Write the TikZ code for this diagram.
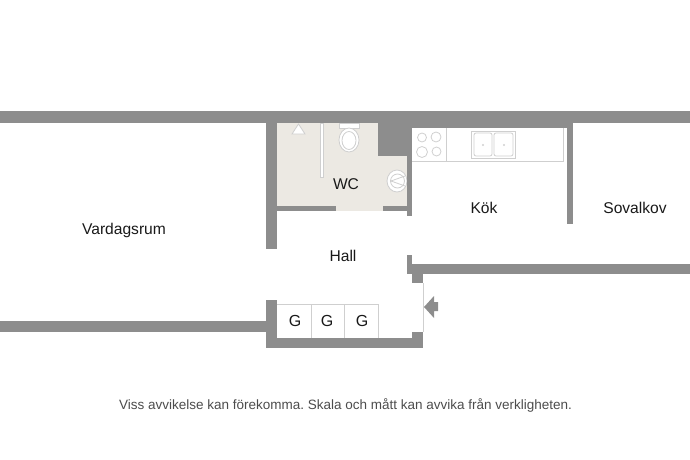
\documentclass[tikz,border=0pt]{standalone}
\usepackage{fontspec}
\setmainfont{Liberation Sans}
\usepackage{xcolor}
\frenchspacing
\definecolor{wallgrey}{HTML}{8D8D8D}
\definecolor{wcfloor}{HTML}{ECE9E3}
\definecolor{linegrey}{HTML}{CFCFCF}
\tikzset{
    wall/.style={fill=wallgrey, draw=none},
    fixture/.style={draw=linegrey, line width=0.8pt},
    roomlabel/.style={font=\fontsize{15.6}{17}\selectfont, text=black!90, inner sep=0pt},
    garderob/.style={font=\fontsize{16}{17}\selectfont, text=black!90, inner sep=0pt},
}

\begin{document}
\begin{tikzpicture}[x=1pt, y=-1pt]
    \useasboundingbox (0, 0) rectangle (690, 460);
    
    % floor of the WC
    \fill[wcfloor] (277, 122) rectangle (407, 206);
    \fill[wcfloor] (336, 206) rectangle (383, 211);
    
    % wash basin
    \draw[fixture, fill=white] (397, 181) ellipse (10 and 11);
    \draw[fixture] (397.5, 181) circle (7);
    \draw[fixture] (391, 181) -- (405, 176);
    \draw[fixture] (391, 181) -- (405, 186);
    
    % walls
    \fill[wall] (0, 111) rectangle (690, 123);
    \fill[wall] (412, 123) rectangle (567, 128);
    \fill[wall] (266, 123) rectangle (277, 249);
    \fill[wall] (277, 206) rectangle (336, 211);
    \fill[wall] (383, 206) rectangle (412, 211);
    \fill[wall] (378, 123) rectangle (412, 156);
    \fill[wall] (407, 156) rectangle (412, 216);
    \fill[wall] (567, 123) rectangle (573, 224);
    \fill[wall] (412, 264) rectangle (690, 274);
    \fill[wall] (407, 255) rectangle (412, 274);
    \fill[wall] (412, 274) rectangle (423, 283);
    \fill[wall] (266, 338) rectangle (423, 348);
    \fill[wall] (412, 332) rectangle (423, 338);
    \fill[wall] (266, 300) rectangle (277, 338);
    \fill[wall] (0, 321) rectangle (266, 332);
    
    % entrance
    \draw[fixture] (423.5, 283) -- (423.5, 332);
    \fill[wall] (424, 307) -- (434, 296) -- (434, 302) -- (438, 302) -- (438, 311) -- (434, 311) -- (434, 318) -- cycle;
    
    % shower and toilet
    \draw[fixture, fill=white] (292, 134) -- (298.5, 124) -- (305, 134) -- cycle;
    \draw[fixture, fill=white] (320, 123) rectangle (323, 177);
    \draw[fixture, fill=white] (339, 123) rectangle (359, 128);
    \draw[fixture, fill=white] (349, 140) ellipse (10 and 12);
    \draw[fixture] (349, 140.5) ellipse (7 and 9);
    
    % kitchen counter
    \draw[fixture] (412, 161) -- (563, 161) -- (563, 128);
    \draw[fixture] (446, 128) -- (446, 161);
    \draw[fixture] (422, 137.5) circle (4.5);
    \draw[fixture] (436, 137) circle (5);
    \draw[fixture] (422, 152) circle (5.5);
    \draw[fixture] (436.5, 151.5) circle (4.5);
    \draw[fixture] (471, 131) rectangle (515, 158);
    \draw[fixture, rounded corners=2pt] (474, 133) rectangle (492, 156);
    \draw[fixture, rounded corners=2pt] (494, 133) rectangle (513, 156);
    \fill[linegrey] (483, 145) circle (1.2);
    \fill[linegrey] (504, 145) circle (1.2);
    
    % wardrobes
    \draw[fixture] (277, 304) -- (378, 304) -- (378, 338);
    \draw[fixture] (311, 304) -- (311, 338);
    \draw[fixture] (344, 304) -- (344, 338);
    
    \node[garderob] (G1) at (295, 321) {G};
    \node[garderob] (G2) at (327, 321) {G};
    \node[garderob] (G3) at (362, 321) {G};
    
    \node[roomlabel] (Vardagsrum) at (124, 230) {Vardagsrum};
    \node[roomlabel] (Hall) at (343, 256) {Hall};
    \node[roomlabel] (WC) at (346, 184) {WC};
    \node[roomlabel] (Kok) at (484, 208) {Kök};
    \node[roomlabel] (Sovalkov) at (635, 208) {Sovalkov};
    
    \node[font=\fontsize{13.5}{15}\selectfont, text=black!70, inner sep=0pt] (Disclaimer) at (345.5, 405) {Viss avvikelse kan förekomma. Skala och mått kan avvika från verkligheten.};
\end{tikzpicture}
\end{document}
